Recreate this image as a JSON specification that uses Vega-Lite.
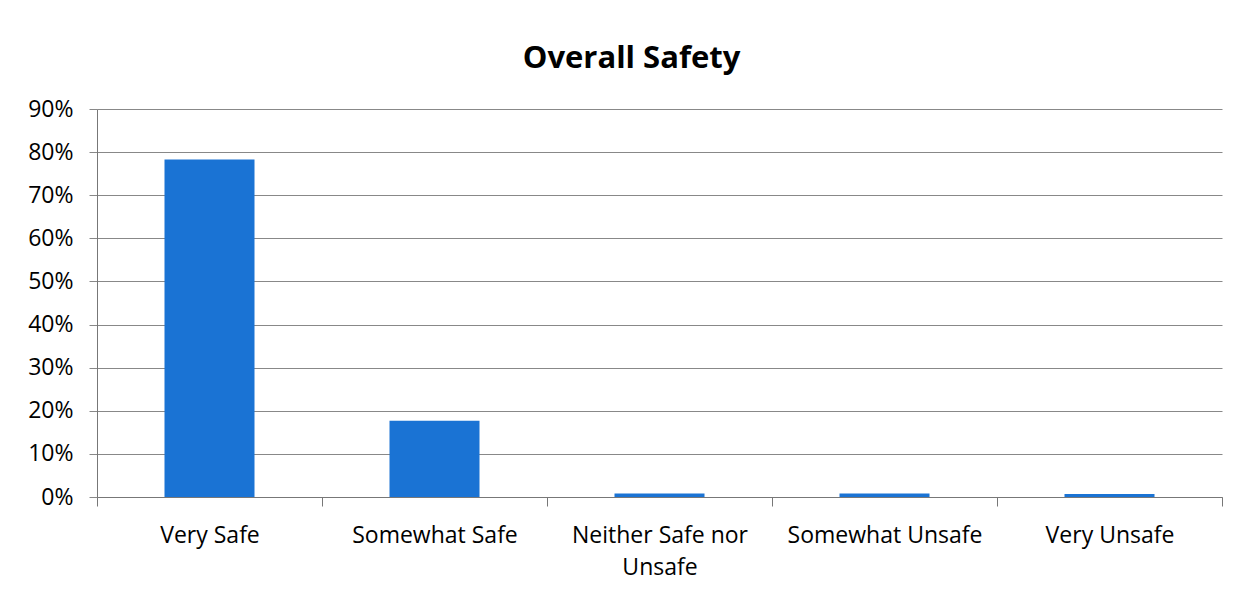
{
  "$schema": "https://vega.github.io/schema/vega-lite/v6.json",
  "autosize": "none",
  "width": 1125,
  "height": 388,
  "padding": {"left": 97, "top": 109, "right": 26, "bottom": 98},
  "background": "white",
  "title": {
    "text": "Overall Safety",
    "font": "Open Sans",
    "fontSize": 31,
    "fontWeight": "bold",
    "color": "#000000",
    "anchor": "middle",
    "dx": -28,
    "offset": 23
  },
  "data": {
    "values": [
      {"category": "Very Safe", "value": 0.783},
      {"category": "Somewhat Safe", "value": 0.177},
      {"category": "Neither Safe nor Unsafe", "value": 0.008},
      {"category": "Somewhat Unsafe", "value": 0.008},
      {"category": "Very Unsafe", "value": 0.007}
    ]
  },
  "mark": {"type": "bar", "color": "#1A73D4", "width": {"band": 0.4}},
  "encoding": {
    "x": {
      "field": "category",
      "type": "nominal",
      "sort": null,
      "scale": {"paddingInner": 0, "paddingOuter": 0},
      "axis": {
        "title": null,
        "labelAngle": 0,
        "labelFont": "Open Sans",
        "labelFontSize": 23,
        "labelColor": "#000000",
        "labelPadding": 18,
        "labelLineHeight": 32,
        "labelLimit": 0,
        "labelExpr": "datum.value == 'Neither Safe nor Unsafe' ? ['Neither Safe nor', 'Unsafe'] : datum.value",
        "tickBand": "extent",
        "tickSize": 9,
        "tickColor": "#777777",
        "domainColor": "#777777",
        "grid": false
      }
    },
    "y": {
      "field": "value",
      "type": "quantitative",
      "scale": {"domain": [0, 0.9], "nice": false},
      "axis": {
        "title": null,
        "format": ".0%",
        "values": [0, 0.1, 0.2, 0.3, 0.4, 0.5, 0.6, 0.7, 0.8, 0.9],
        "labelFont": "Open Sans",
        "labelFontSize": 23,
        "labelColor": "#000000",
        "labelPadding": 16,
        "tickSize": 8,
        "tickColor": "#888888",
        "domainColor": "#777777",
        "gridColor": "#888888",
        "gridOpacity": 1,
        "grid": true
      }
    }
  },
  "config": {"view": {"stroke": null}}
}
